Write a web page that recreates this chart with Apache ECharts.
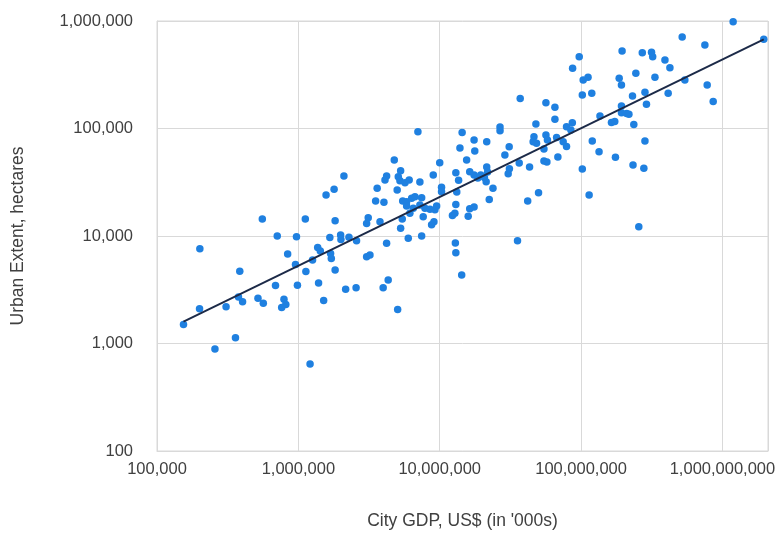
<!DOCTYPE html>
<html>
<head>
<meta charset="utf-8">
<script src="https://cdn.jsdelivr.net/npm/echarts@6.0.0/dist/echarts.min.js"></script>
<style>
html, body { margin: 0; padding: 0; background: #ffffff; }
#chart { width: 783px; height: 535px; }
</style>
</head>
<body>
<div id="chart"></div>
<script>
// City GDP (US$, thousands) for each city
const gdpValues = [
  154000, 201000, 200000, 257000, 308000, 359000, 385000, 377000, 403000, 518000,
  565000, 556000, 689000, 709000, 791000, 815000, 762000, 840000, 954000, 970000,
  985000,
  1120000, 1130000, 1210000, 1260000, 1370000, 1430000, 1390000, 1510000, 1570000, 1790000,
  1670000, 1690000, 1710000, 1820000, 1820000, 1990000, 2000000, 2100000, 2160000, 2280000,
  2580000, 2560000,
  3040000, 3120000, 3040000, 3210000, 3520000, 3610000, 3780000, 3980000, 4030000, 4100000,
  4210000, 4210000, 4320000, 4770000, 5000000, 5040000, 5090000, 5230000, 5290000, 5290000,
  5430000, 5470000, 5680000, 5830000, 5830000, 5990000, 6080000, 6150000, 6330000, 6500000,
  6680000, 7010000, 7240000, 7240000, 7450000, 7450000, 7640000, 7860000, 8530000, 8760000,
  9000000, 9100000, 9250000, 9510000, 10000000, 10300000, 10300000,
  12300000, 12800000, 12900000, 13000000, 14300000, 13000000, 13200000, 13000000, 13600000, 13900000,
  14400000, 15500000, 16300000, 17500000, 18600000, 19500000, 20700000, 21300000, 21500000, 21800000,
  17500000, 21500000, 17700000, 16300000, 17500000, 15900000, 22400000, 23800000, 26700000, 26700000,
  28900000, 30500000, 31100000, 31000000, 35500000, 36500000, 37100000, 41900000, 43200000, 45800000,
  46400000, 48400000, 47900000, 50000000, 54600000, 54600000, 57300000, 56400000, 65300000, 56400000,
  57800000, 65300000, 67100000, 68500000, 74700000, 78900000, 78900000, 86700000, 84700000, 87100000,
  97000000, 103500000, 112000000, 102000000, 119000000, 136000000, 120000000, 134000000, 102000000, 114000000,
  164000000, 173000000, 175000000, 186000000, 193000000, 193000000, 193000000, 210000000, 218000000, 195000000,
  231000000, 233000000, 236000000, 244000000, 256000000, 271000000, 278000000, 283000000, 283000000, 290000000,
  315000000, 321000000, 333000000, 392000000, 413000000, 425000000, 519000000, 542000000, 751000000, 780000000,
  860000000, 1190000000, 1960000000
];

// Urban extent (hectares) for the same cities, in the same order
const extentValues = [
  1500, 7600, 2100, 890, 2200, 1130, 4700, 2710, 2450, 2630,
  2370, 14400, 3470, 10000, 2580, 2310, 2160, 6800, 5430, 9850,
  3480,
  14400, 4680, 645, 5980, 7820, 7250, 3660, 2510, 24100, 27200,
  9690, 6870, 6180, 13900, 4830, 10200, 9270, 36100, 3190, 9730,
  9020, 3300,
  13100, 14800, 6420, 6660, 21200, 27800, 13600, 3300, 20600, 33200,
  36100, 8550, 3900, 50900, 26800, 2070, 35600, 32700, 40500, 11800,
  14400, 21200, 31300, 20800, 19000, 9520, 33200, 16300, 22400, 18100,
  23200, 93400, 31800, 19400, 22700, 10000, 15100, 18100, 17700, 12700,
  36900, 13600, 17500, 19000, 48100, 28400, 25800,
  15500, 16300, 8610, 7000, 4340, 19600, 25700, 38700, 33000, 65900,
  91800, 50900, 39600, 36900, 34700, 36900, 35000, 32000, 43900, 39400,
  78200, 75400, 61800, 17900, 18600, 15300, 21900, 27800, 103000, 95400,
  56700, 38000, 42200, 67800, 9040, 47800, 190000, 21200, 43900, 75400,
  83900, 72800, 110000, 25300, 64400, 49900, 48800, 174000, 158000, 87000,
  78200, 122000, 82500, 54300, 75400, 68000, 104000, 113000, 96800, 363000,
  466000, 283000, 300000, 205000, 213000, 131000, 76500, 60800, 42000, 24100,
  114000, 116000, 54000, 293000, 254000, 162000, 140000, 138000, 136000, 526000,
  201000, 45800, 109000, 326000, 12200, 507000, 42700, 217000, 76500, 168000,
  512000, 466000, 300000, 434000, 213000, 368000, 710000, 283000, 598000, 254000,
  178000, 985000, 676000
];

// Power-law trend line, drawn between the smallest and largest city
const trendGdp = [154000, 1960000000];
const trendExtent = [1600, 676000];

// Labelled ticks on both logarithmic axes
const xTickValues = [100000, 1000000, 10000000, 100000000, 1000000000];
const yTickValues = [100, 1000, 10000, 100000, 1000000];

const xAxisTitle = "City GDP, US$ (in '000s)";
const yAxisTitle = 'Urban Extent, hectares';

function tickLabel(list) {
  return function (v) {
    const hit = list.find(function (t) {
      return Math.abs(Math.log10(v) - Math.log10(t)) < 1e-6;
    });
    return hit === undefined ? '' : hit.toLocaleString('en-US');
  };
}

const points = gdpValues.map(function (g, i) { return [g, extentValues[i]]; });
const trend = trendGdp.map(function (g, i) { return [g, trendExtent[i]]; });

const fontFamily = "'Liberation Sans', Arial, sans-serif";
const gridColor = '#d9d9d9';
const textColor = '#404040';

const chart = echarts.init(document.getElementById('chart'), null, { renderer: 'canvas' });
chart.setOption({
  animation: false,
  backgroundColor: '#ffffff',
  textStyle: { fontFamily: fontFamily },
  grid: {
    left: 157, right: 15, top: 21, bottom: 84,
    show: true, borderColor: gridColor, borderWidth: 1
  },
  xAxis: {
    type: 'log',
    logBase: 10,
    min: 100000,
    max: 2100000000,
    name: xAxisTitle,
    nameLocation: 'middle',
    nameGap: 61,
    nameTextStyle: { fontSize: 17.5, color: textColor, fontFamily: fontFamily },
    axisLine: { show: true, lineStyle: { color: gridColor, width: 1 } },
    axisTick: { show: false },
    splitLine: { show: true, lineStyle: { color: gridColor, width: 1 } },
    axisLabel: {
      formatter: tickLabel(xTickValues),
      fontSize: 16.5, color: textColor, margin: 10, fontFamily: fontFamily,
      showMinLabel: true, showMaxLabel: true, hideOverlap: false
    }
  },
  yAxis: {
    type: 'log',
    logBase: 10,
    min: 100,
    max: 1000000,
    name: yAxisTitle,
    nameLocation: 'middle',
    nameGap: 130,
    nameRotate: 90,
    nameTextStyle: { fontSize: 17.5, color: textColor, fontFamily: fontFamily },
    axisLine: { show: true, lineStyle: { color: gridColor, width: 1 } },
    axisTick: { show: false },
    splitLine: { show: true, lineStyle: { color: gridColor, width: 1 } },
    axisLabel: {
      formatter: tickLabel(yTickValues),
      fontSize: 16.5, color: textColor, margin: 24, fontFamily: fontFamily
    }
  },
  series: [
    {
      type: 'scatter',
      data: points,
      symbol: 'circle',
      symbolSize: 7.5,
      itemStyle: { color: '#1f80e0', opacity: 1 },
      z: 2
    },
    {
      type: 'line',
      data: trend,
      showSymbol: false,
      symbol: 'none',
      lineStyle: { color: '#1c2a48', width: 2 },
      z: 3
    }
  ]
});
</script>
</body>
</html>
